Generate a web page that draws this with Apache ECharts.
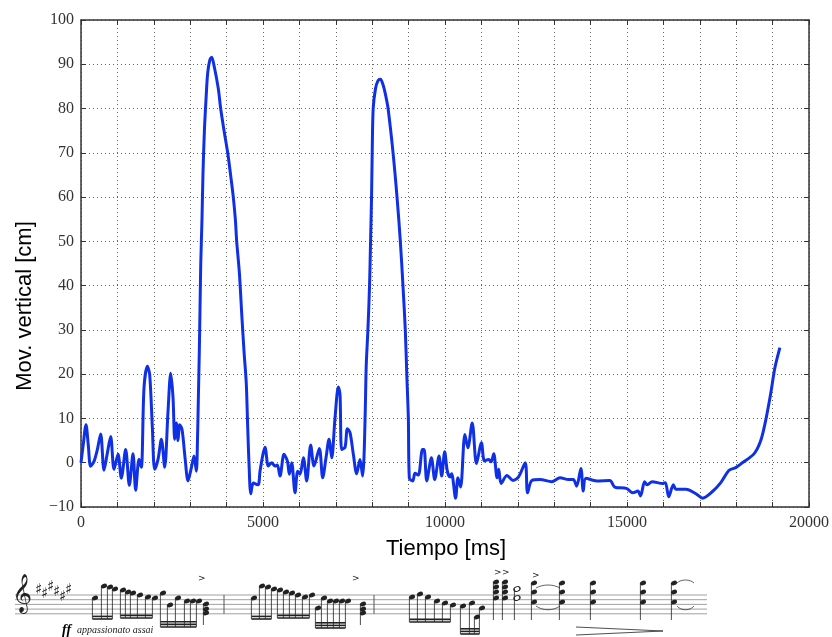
<!DOCTYPE html>
<html>
<head>
<meta charset="utf-8">
<script src="https://cdn.jsdelivr.net/npm/echarts@6/dist/echarts.min.js"></script>
<style>html,body{margin:0;padding:0;background:#fff}#c{width:832px;height:637px}</style>
</head>
<body>
<div id="c"></div>
<script>
// ---- data ----
const timeMs = [0,60,137,200,265,357,450,540,632,720,815,907,1017,1108,1227,1328,1429,1502,1594,1658,1731,1823,1887,1960,2024,2116,2208,2299,2391,2464,2528,2574,2620,2666,2711,2776,2860,2940,3032,3105,3169,3200,3225,3250,3270,3290,3324,3350,3390,3434,3480,3540,3590,3660,3772,3837,3930,4030,4110,4184,4240,4277,4350,4420,4480,4540,4580,4615,4665,4735,4864,4918,5001,5055,5147,5239,5330,5394,5467,5577,5669,5724,5788,5880,5953,6017,6109,6200,6310,6402,6548,6640,6731,6814,6887,6979,7070,7116,7162,7254,7318,7391,7482,7574,7665,7738,7774,7810,7836,7882,7927,7955,7982,8000,8027,8091,8160,8227,8300,8364,8436,8573,8682,8773,8845,8909,8950,8993,9020,9113,9176,9268,9381,9426,9499,9627,9718,9836,9909,9991,10064,10137,10182,10291,10355,10428,10546,10628,10747,10865,11001,11084,11202,11266,11339,11430,11476,11540,11703,11867,12021,12204,12268,12386,12614,12933,13160,13388,13525,13616,13734,13798,13871,14163,14527,14663,14982,15164,15300,15373,15482,15555,15692,15983,16055,16146,16274,16347,16620,16893,17075,17348,17576,17804,17986,18169,18488,18670,18806,18943,19062,19200];
const movCm = [0,4,8.6,4,-0.8,0.3,3,6.5,-1.7,2,5.9,-1.5,1.9,-3.5,3.0,-5.1,2.0,-6.2,0.8,-1.0,16.9,21.8,19.9,8,-1.5,0.75,5.3,-1.0,11.7,20.2,14.7,5.3,9.0,5.0,8.6,7.5,1,-4.1,-1.1,1.5,-1.9,5,15,25,35,45,55,65,75,82,88,91,91.6,89.5,84.5,80,75,70,65,60,55,50,43,33,25,18,8,0,-7,-4.6,-5.0,-1.9,2,3.5,-0.75,0,-0.75,-0.5,-3.0,1.9,0.4,-2.6,0,-6.8,-1.9,-2.6,1.1,-4.1,4.0,-0.75,3.2,-3.4,1.1,5.3,1.1,10.2,17.1,15.4,3.0,3.5,7.7,6.8,1.9,-2.5,0.75,-3.0,1.1,12,22,30,40,50,60,70,80,84.5,86.3,86.6,85.3,83.2,80,70,60,50,40,30,20,10,-3.5,-4.1,-2.4,-2.8,3.0,3.0,-4.1,1.1,-3.8,1.5,-3.0,2.5,-1.9,-3.2,-2.5,-8.0,-3.4,-5.5,6.4,3.4,9.0,-0.2,4.5,0.4,0.75,0.2,2.0,-3.4,-1.5,-4.7,-2.9,-4.0,-3.2,0.0,-6.8,-4.0,-3.8,-4.3,-3.4,-3.8,-3.8,-5.3,-1.3,-6.4,-3.5,-4.1,-4.0,-5.5,-5.8,-6.8,-6.4,-7.5,-4.3,-5.0,-4.3,-4.7,-4.5,-7.7,-5.0,-6.0,-6.0,-7.0,-8.0,-6.5,-4.5,-1.7,-1.1,0,2.0,4.9,9.4,15.4,21.4,26];
const xTickLabels = [0,5000,10000,15000,20000];
const yTickLabels = [-10,0,10,20,30,40,50,60,70,80,90,100];
const xTitle = 'Tiempo [ms]';
const yTitle = 'Mov. vertical [cm]';
const scoreText = 'appassionato assai';

// ---- decorative score (drawn as graphic) ----
function buildScore(){
  const g = [];
  const ink = '#222';
  const y0 = 595, dy = 4.7;
  for (let i=0;i<5;i++) g.push({type:'line',shape:{x1:15,y1:y0+i*dy,x2:707,y2:y0+i*dy},style:{stroke:'#888',lineWidth:0.8},silent:true});
  [224,374].forEach(x=>g.push({type:'line',shape:{x1:x,y1:y0,x2:x,y2:y0+4*dy},style:{stroke:'#555',lineWidth:1}}));
  g.push({type:'text',left:12,top:578,style:{text:'\uD834\uDD1E',font:'34px "DejaVu Sans"',fill:ink}});
  [[35,583],[41,587],[47,580],[53,585],[59,590],[65,583]].forEach(p=>g.push({type:'text',x:p[0],y:p[1],style:{text:'\u266F',font:'15px "DejaVu Sans"',fill:ink}}));
  function head(x,y,open){g.push({type:'circle',x:x,y:y,scaleX:1.35,rotation:0.4,shape:{cx:0,cy:0,r:2.3},style:open?{fill:'#fff',stroke:ink,lineWidth:1}:{fill:ink}});}
  function stem(x,y1,y2){g.push({type:'line',shape:{x1:x,y1:y1,x2:x,y2:y2},style:{stroke:ink,lineWidth:0.8}});}
  function group(notes,beamY,nb){
    notes.forEach(n=>{head(n[0],n[1]);stem(n[0]-2.6,n[1],beamY);});
    const xa=notes[0][0]-2.6, xb=notes[notes.length-1][0]-2.6;
    for(let k=0;k<nb;k++) g.push({type:'line',shape:{x1:xa,y1:beamY-k*2.6,x2:xb,y2:beamY-k*2.6},style:{stroke:ink,lineWidth:1.6}});
  }
  function chord(x,ys,stemTo,open){ys.forEach(y=>head(x,y,open));stem(x-2.6,Math.min.apply(null,ys),stemTo);}
  function accent(x,y){g.push({type:'text',x:x,y:y,style:{text:'>',font:'9px "DejaVu Sans"',fill:ink}});}
  // measure 1
  group([[95,598],[104,586],[110,587],[115,589]],619,2);
  group([[123,590],[128,592],[133,593],[140,595],[148,597],[155,598]],618,2);
  group([[163,593],[170,605],[178,598],[187,601],[193,601],[199,601]],627,3);
  chord(206,[604,609,613],625);accent(198,574);
  // measure 2
  group([[254,598],[262,586],[268,587],[274,589]],619,2);
  group([[280,590],[286,592],[292,593],[298,595],[305,597],[312,595]],618,2);
  group([[318,608],[324,598],[330,601],[336,601],[342,601],[348,601]],628,3);
  chord(363,[604,609,613],625);accent(352,574);
  // measure 3
  group([[412,597],[420,594],[428,597],[437,601],[445,603],[453,605]],622,2);
  group([[463,606],[472,603],[477,617],[482,608]],634,3);
  chord(496,[582,587,592,598],620);chord(505,[582,587,592,598],620);chord(517,[589,598],620,true);
  accent(494,568);accent(502,568);
  [534,562,593,643,674].forEach(x=>chord(x,[583,592,602],620));
  accent(532,571);
  g.push({type:'bezierCurve',shape:{x1:536,y1:588,x2:560,y2:588,cpx1:543,cpy1:584,cpx2:553,cpy2:584},style:{stroke:ink,fill:null,lineWidth:0.7}});
  g.push({type:'bezierCurve',shape:{x1:536,y1:606,x2:560,y2:606,cpx1:543,cpy1:611,cpx2:553,cpy2:611},style:{stroke:ink,fill:null,lineWidth:0.7}});
  g.push({type:'bezierCurve',shape:{x1:677,y1:583,x2:694,y2:583,cpx1:681,cpy1:579,cpx2:690,cpy2:579},style:{stroke:ink,fill:null,lineWidth:0.7}});
  g.push({type:'bezierCurve',shape:{x1:677,y1:606,x2:694,y2:606,cpx1:681,cpy1:611,cpx2:690,cpy2:611},style:{stroke:ink,fill:null,lineWidth:0.7}});
  g.push({type:'line',shape:{x1:576,y1:627,x2:663,y2:631},style:{stroke:ink,lineWidth:0.8}});
  g.push({type:'line',shape:{x1:576,y1:635,x2:663,y2:631},style:{stroke:ink,lineWidth:0.8}});
  g.push({type:'text',x:62,y:623,style:{text:'ff',font:'italic bold 14px "Liberation Serif"',fill:'#000'}});
  g.push({type:'text',x:77,y:625,style:{text:scoreText,font:'italic 10px "Liberation Serif"',fill:ink}});
  return g;
}

const chart = echarts.init(document.getElementById('c'), null, {renderer:'canvas'});
const axisLine = {show:true,onZero:false,lineStyle:{color:'#333',width:1.5}};
const gridLine = {show:true,lineStyle:{color:'#666',type:[1,3],width:1}};
const tickFont = {fontFamily:'Liberation Serif',fontSize:16,color:'#333'};
const tick = {show:true,inside:true,length:5,lineStyle:{color:'#333'}};
chart.setOption({
  animation:false,
  backgroundColor:'#fff',
  grid:{left:81,right:23,top:20,bottom:130,containLabel:false},
  xAxis:[
    {type:'value',min:0,max:20000,interval:1000,axisLine:axisLine,axisTick:tick,
     axisLabel:Object.assign({margin:8,formatter:v=>xTickLabels.indexOf(v)>=0?String(v):''},tickFont),
     splitLine:gridLine},
    {type:'value',position:'top',min:0,max:20000,interval:1000,axisLine:axisLine,axisTick:tick,
     axisLabel:{show:false},splitLine:{show:false}}
  ],
  yAxis:[
    {type:'value',min:-10,max:100,interval:10,axisLine:axisLine,axisTick:tick,
     axisLabel:Object.assign({margin:7,formatter:v=>yTickLabels.indexOf(v)>=0?String(v).replace('-','\u2212'):''},tickFont),
     splitLine:gridLine},
    {type:'value',position:'right',min:-10,max:100,interval:10,axisLine:axisLine,axisTick:tick,
     axisLabel:{show:false},splitLine:{show:false}}
  ],
  series:[{
    type:'line',xAxisIndex:0,yAxisIndex:0,
    data:timeMs.map((t,i)=>[t,movCm[i]]),
    showSymbol:false,smooth:0.3,
    lineStyle:{color:'#1030e6',width:3},
    z:5
  }],
  graphic:[
    {type:'text',x:446,y:549,style:{text:xTitle,font:'22px "Liberation Sans"',fill:'#000',textAlign:'center',textVerticalAlign:'middle'}},
    {type:'text',x:25,y:306,rotation:Math.PI/2,style:{text:yTitle,font:'22px "Liberation Sans"',fill:'#000',textAlign:'center',textVerticalAlign:'middle'}}
  ].concat(buildScore())
});
</script>
</body>
</html>
